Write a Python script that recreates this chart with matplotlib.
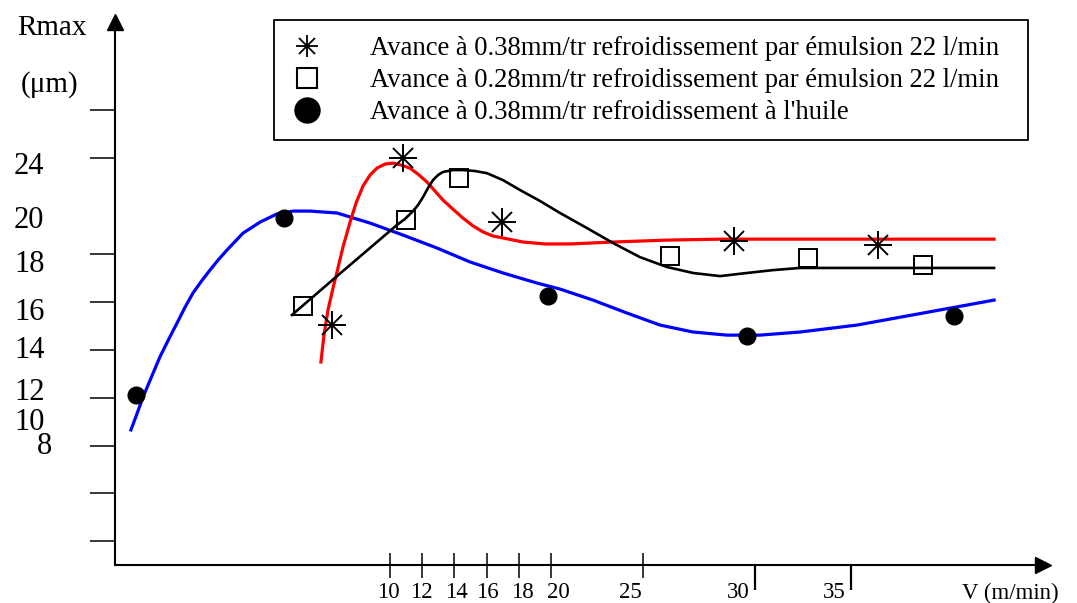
import matplotlib.pyplot as plt
from matplotlib.lines import Line2D
from matplotlib.patches import Rectangle
from matplotlib.legend_handler import HandlerTuple

plt.rcParams['font.family'] = ['Liberation Serif', 'DejaVu Serif']

# points (x in the 10-20 scale of the V axis, y in the 12-18 scale of Rmax)
star_x = [6.40, 10.81, 16.96, 31.37, 40.31]
star_y = [15.02, 21.98, 19.31, 18.52, 18.35]

square_x = [4.60, 10.99, 14.29, 27.39, 35.96, 43.11]
square_y = [15.81, 19.40, 21.15, 17.90, 17.81, 17.52]

dot_x = [-5.78, 3.42, 19.81, 32.17, 45.03]
dot_y = [12.10, 19.48, 16.23, 14.56, 15.40]

# hand drawn trend curves
red_x = [5.71, 5.90, 6.15, 6.46, 6.71, 7.08, 7.52, 7.89, 8.32, 8.76, 9.19, 9.69,
         10.19, 10.68, 11.24, 11.74, 12.30, 12.80, 13.29, 13.91, 14.53, 15.16,
         15.78, 16.40, 17.02, 18.26, 19.63, 21.18, 23.85, 27.20, 30.50, 35.47,
         41.68, 47.52]
red_y = [13.48, 14.60, 15.65, 16.56, 17.23, 18.27, 19.31, 20.10, 20.81, 21.27,
         21.56, 21.73, 21.77, 21.69, 21.56, 21.31, 20.98, 20.60, 20.23, 19.85,
         19.48, 19.15, 18.90, 18.73, 18.65, 18.48, 18.40, 18.40, 18.48, 18.56,
         18.60, 18.60, 18.60, 18.60]

black_x = [3.91, 6.71, 10.43, 10.93, 11.43, 11.74, 12.05, 12.36, 12.67, 12.98,
           13.29, 13.91, 14.53, 15.28, 16.02, 17.02, 18.07, 19.32, 20.56, 22.24,
           23.85, 25.53, 27.20, 28.82, 30.50, 32.17, 33.79, 35.47, 41.68, 47.52]
black_y = [15.44, 17.06, 19.19, 19.44, 19.77, 20.02, 20.35, 20.73, 21.06, 21.27,
           21.40, 21.48, 21.48, 21.44, 21.35, 21.06, 20.65, 20.19, 19.69, 19.06,
           18.44, 17.85, 17.44, 17.19, 17.06, 17.19, 17.31, 17.40, 17.40, 17.40]

blue_x = [-6.09, -5.70, -5.34, -4.80, -4.29, -3.75, -3.23, -2.74, -2.24, -1.70,
          -1.18, -0.65, -0.12, 0.87, 1.93, 2.98, 3.98, 5.03, 6.71, 8.76, 10.81,
          12.92, 14.97, 17.02, 19.13, 20.56, 22.61, 24.72, 26.77, 28.82, 30.93,
          32.98, 35.47, 39.01, 43.11, 47.52]
blue_y = [10.65, 11.35, 12.02, 12.88, 13.69, 14.42, 15.10, 15.75, 16.35, 16.86,
          17.31, 17.75, 18.15, 18.85, 19.31, 19.65, 19.77, 19.77, 19.69, 19.27,
          18.77, 18.23, 17.65, 17.19, 16.77, 16.52, 16.06, 15.52, 15.02, 14.73,
          14.60, 14.60, 14.73, 15.02, 15.52, 16.06]

legend_labels = [
    "Avance à 0.38mm/tr refroidissement par émulsion 22 l/min",
    "Avance à 0.28mm/tr refroidissement par émulsion 22 l/min",
    "Avance à 0.38mm/tr refroidissement à l'huile",
]

# tick marks and their (misplaced) labels as they appear in the drawing
ytick_pos = [6, 8, 10, 12, 14, 16, 18, 22, 24]
ytick_labels = ['24', '20', '18', '16', '14', '12', '10', '8']
ytick_label_px = [(29, 167), (29, 221), (30, 264), (30, 312), (30, 350),
                  (30, 392), (30, 422), (45, 447)]

xtick_pos = [10, 12, 14, 16, 18, 20, 25.71]
xtick_low_pos = [32.67, 38.63]
xtick_labels = ['10', '12', '14', '16', '18', '20', '25', '30', '35']
xtick_label_px = [388, 421, 456, 487, 522, 558, 630, 738, 834]

W, H = 1077, 603
fig = plt.figure(figsize=(W / 100, H / 100), dpi=100)
ax = fig.add_axes([115 / W, 1 - 565 / H, 928 / W, 543 / H])
ax.set_xlim(-7.08, 50.56)
ax.set_ylim(5.02, 27.65)

ax.plot(blue_x, blue_y, color='#0000ff', lw=2.3, zorder=2)
ax.plot(red_x, red_y, color='#ff0000', lw=2.3, zorder=2)
ax.plot(black_x, black_y, color='black', lw=1.9, zorder=2)

ax.plot(star_x, star_y, ls='none', marker='+', ms=19.5, mew=1.4, color='k', zorder=3)
ax.plot(star_x, star_y, ls='none', marker='x', ms=14.5, mew=1.4, color='k', zorder=3)
ax.plot(square_x, square_y, ls='none', marker='s', ms=12.5, mfc='none', mec='k',
        mew=1.4, zorder=3)
ax.plot(dot_x, dot_y, ls='none', marker='o', ms=12, color='k', zorder=3)

# axes drawn as two arrows
for side in ['top', 'right']:
    ax.spines[side].set_visible(False)
for side in ['left', 'bottom']:
    ax.spines[side].set_linewidth(1.5)
ax.plot(1, 0, '>k', ms=12, transform=ax.transAxes, clip_on=False)
ax.plot(0, 1, '^k', ms=11, transform=ax.transAxes, clip_on=False)

ax.set_yticks(ytick_pos)
ax.set_yticklabels([])
ax.tick_params(axis='y', direction='out', length=18, width=1.1)
ax.set_xticks(xtick_pos)
ax.set_xticklabels([])
ax.tick_params(axis='x', which='major', direction='inout', length=18, width=1.1)
ax.set_xticks(xtick_low_pos, minor=True)
ax.tick_params(axis='x', which='minor', direction='out', length=18, width=1.6)


def label(px_x, px_y, s, size):
    fig.text(px_x / W, 1 - px_y / H, s, fontsize=size, ha='center', va='center')


label(52, 28, 'Rmax', 21)
label(50, 85, '(μm)', 21)
for (lx, ly), s in zip(ytick_label_px, ytick_labels):
    label(lx, ly, s, 22)
for lx, s in zip(xtick_label_px, xtick_labels):
    label(lx, 592, s, 16.5)
label(1010, 593, 'V (m/min)', 16.5)

# legend: box drawn separately so its padding can match the drawing
h_star = (Line2D([], [], ls='none', marker='+', ms=16, mew=1.3, color='k'),
          Line2D([], [], ls='none', marker='x', ms=12, mew=1.3, color='k'))
h_square = Line2D([], [], ls='none', marker='s', ms=15, mfc='none', mec='k', mew=1.5)
h_dot = Line2D([], [], ls='none', marker='o', ms=18, color='k')
leg = ax.legend([h_star, h_square, h_dot], legend_labels,
                handler_map={tuple: HandlerTuple(ndivide=1)},
                loc='upper left', bbox_to_anchor=(294 / W, 1 - 36 / H),
                bbox_transform=fig.transFigure, fontsize=19.2, frameon=False,
                borderpad=0, handlelength=1.0, handletextpad=1.84,
                labelspacing=0.26, borderaxespad=0)
fig.patches.append(Rectangle((274 / W, 1 - 140 / H), 754 / W, 120 / H,
                             transform=fig.transFigure, fill=False,
                             edgecolor='black', linewidth=1.3, zorder=5))

fig.savefig('out.png', dpi=100)
